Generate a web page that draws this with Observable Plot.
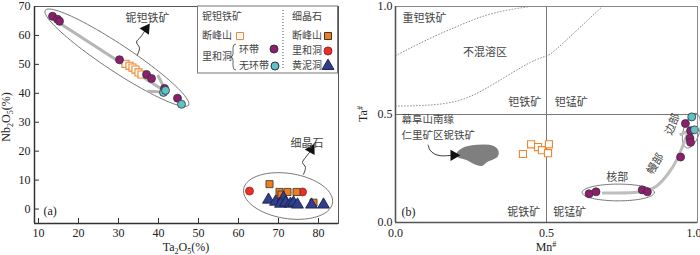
<!DOCTYPE html>
<html><head><meta charset="utf-8">
<script src="https://cdn.jsdelivr.net/npm/d3@7"></script>
<script src="https://cdn.jsdelivr.net/npm/@observablehq/plot@0.6"></script>
<style>
body{margin:0;background:#fff;}
#wrap{position:relative;width:700px;height:255px;overflow:hidden;background:#fff;}
#wrap > svg{position:absolute;top:0;}
</style></head><body><div id="wrap"></div>
<script>
// ---------- Panel (a): Ta2O5 (%) vs Nb2O5 (%) ----------
const aXTicks = [10, 20, 30, 40, 50, 60, 70, 80];
const aYTicks = [0, 10, 20, 30, 40, 50, 60, 70];
const aXDomain = [9, 85];
const aYDomain = [-5, 70];
// columbite-tantalite, Lihedong zoned
const aZonedTa = [13.5, 14.75, 15.25, 30.25, 37, 38.25, 41.5, 44.75];
const aZonedNb = [66.6, 65.6, 64.9, 51.6, 46.5, 45.1, 41.7, 38.3];
// columbite-tantalite, Lihedong unzoned
const aUnzonedTa = [41.25, 41.75, 45.75];
const aUnzonedNb = [40.3, 41.0, 36.2];
// columbite-tantalite, Duanfengshan
const aColDfsTa = [31.75, 32.75, 33.5, 34.25, 35, 35.75];
const aColDfsNb = [50.2, 49.5, 48.9, 48.2, 47.2, 46.5];
// microlite, Duanfengshan
const aMicDfsTa = [67.75, 70.25, 70.75, 72.25, 74.5, 78.75];
const aMicDfsNb = [8.6, 5.9, 5.0, 5.9, 5.9, 2.2];
// microlite, Lihedong
const aMicLhdTa = [62.75, 76, 70.5];
const aMicLhdNb = [6.2, 5.9, 3.2];
// microlite, Huangnidong
const aMicHndTa = [67.5, 69.25, 71.25, 70.5, 71.75, 73, 73.75, 74.75, 78.25, 81.25];
const aMicHndNb = [3.2, 2.5, 3.9, 1.8, 2.2, 1.8, 2.2, 1.5, 1.5, 1.5];

// ---------- Panel (b): Mn# vs Ta# ----------
const bTicks = [0, 0.5, 1];
const bColDfsMn = [0.422, 0.449, 0.472, 0.485, 0.508, 0.505];
const bColDfsTa = [0.317, 0.362, 0.349, 0.335, 0.362, 0.321];
const bZonedMn = [0.641, 0.664, 0.817, 0.834, 0.944, 0.975, 0.977, 0.960, 0.977];
const bZonedTa = [0.133, 0.142, 0.151, 0.142, 0.303, 0.390, 0.371, 0.458, 0.425];
const bUnzonedMn = [0.981, 0.990];
const bUnzonedTa = [0.489, 0.429];
// miscibility-gap boundaries (dotted)
const bUpperMn = [0, 0.103, 0.213, 0.322, 0.445];
const bUpperTa = [0.772, 0.845, 0.913, 0.968, 1.0];
const bLowerMn = [0, 0.103, 0.213, 0.322, 0.445, 0.502, 0.555, 0.685];
const bLowerTa = [0.539, 0.543, 0.566, 0.639, 0.740, 0.772, 0.831, 1.0];
// Renli columbite field (outline)
const bFieldMn = [0.203, 0.223, 0.269, 0.322, 0.339, 0.336, 0.302, 0.286, 0.269, 0.236, 0.206];
const bFieldTa = [0.315, 0.342, 0.356, 0.352, 0.329, 0.306, 0.283, 0.265, 0.269, 0.292, 0.306];
// evolution trend core -> mantle -> rim
const bTrendMn = [0.688, 0.811, 0.860, 0.904, 0.934, 0.953, 0.967];
const bTrendTa = [0.137, 0.142, 0.164, 0.228, 0.297, 0.361, 0.411];

const pts = (xs, ys) => xs.map((x, i) => ({x, y: ys[i]}));
function ellipse(c, a, b, n = 96) {
  return d3.range(n + 1).map(i => {
    const t = 2 * Math.PI * i / n;
    return {x: c[0] + a[0] * Math.cos(t) + b[0] * Math.sin(t),
            y: c[1] + a[1] * Math.cos(t) + b[1] * Math.sin(t)};
  });
}
const CJK = "'Noto Sans CJK SC', 'Noto Sans', sans-serif";
const SERIF = "'Liberation Serif', 'DejaVu Serif', serif";
const PURPLE = "#8e1c6f", CYAN = "#5ec3c8", ORANGE = "#f0862e", ORANGEF = "#f07d1c", RED = "#e8302a", BLUE = "#2f3f8e";
const cjkText = {x: "x", y: "y", text: "t", fontFamily: CJK, fontSize: 11, fill: "#444"};

// ---------- Plot (a) ----------
const plotA = Plot.plot({
  width: 345, height: 255,
  marginLeft: 34, marginRight: 7, marginTop: 6, marginBottom: 32,
  x: {domain: aXDomain}, y: {domain: aYDomain},
  style: {fontFamily: SERIF, fontSize: "12px", color: "#222", background: "transparent", overflow: "visible"},
  marks: [
    Plot.line(ellipse([29.6, 52.3], [17.9, -16.4], [-1.88, -3.82]), {x: "x", y: "y", stroke: "#777", strokeWidth: 1}),
    Plot.line(ellipse([72.4, 4.5], [11.1, -2.4], [-0.9, -7.7]), {x: "x", y: "y", stroke: "#777", strokeWidth: 1}),
    Plot.arrow([{x1: 15, y1: 64.5, x2: 42, y2: 40.4}], {x1: "x1", y1: "y1", x2: "x2", y2: "y2", stroke: "#b5b5b5", strokeWidth: 3, headLength: 9}),
    // pointer arrows
    Plot.line(pts([34.75, 35.25, 34.5, 35.5, 36.5], [53.3, 55.7, 57.7, 59.4, 61.4]), {x: "x", y: "y", curve: "catmull-rom", stroke: "#222", strokeWidth: 0.9}),
    Plot.line(pts([76.25, 76.75, 76, 76.75, 77.8], [12.0, 14.4, 16.1, 17.8, 19.6]), {x: "x", y: "y", curve: "catmull-rom", stroke: "#222", strokeWidth: 0.9}),
    Plot.dot([{x: 36.9, y: 62.3, r: 35}, {x: 78.2, y: 20.6, r: 30}], {x: "x", y: "y", rotate: "r", symbol: "triangle", r: 4.2, fill: "#111"}),
    // data
    Plot.dot(pts(aColDfsTa, aColDfsNb), {x: "x", y: "y", symbol: "square", r: 4, fill: "white", stroke: ORANGE, strokeWidth: 1.1}),
    Plot.dot(pts(aZonedTa, aZonedNb), {x: "x", y: "y", r: 4, fill: PURPLE, stroke: "#333", strokeWidth: 0.8}),
    Plot.dot(pts(aUnzonedTa, aUnzonedNb), {x: "x", y: "y", r: 4, fill: CYAN, stroke: "#333", strokeWidth: 0.8}),
    Plot.dot(pts(aMicLhdTa, aMicLhdNb), {x: "x", y: "y", r: 4, fill: RED, stroke: "#a02020", strokeWidth: 0.8}),
    Plot.dot(pts(aMicDfsTa, aMicDfsNb), {x: "x", y: "y", symbol: "square", r: 4, fill: ORANGEF, stroke: "#333", strokeWidth: 0.8}),
    Plot.dot(pts(aMicHndTa, aMicHndNb), {x: "x", y: "y", symbol: "triangle", r: 4.4, fill: BLUE, stroke: "#1a1a40", strokeWidth: 0.8}),
    // annotations
    Plot.text([{x: 31.75, y: 65.9, t: "铌钽铁矿"}, {x: 73, y: 22.6, t: "细晶石"}], {...cjkText, textAnchor: "start"}),
    Plot.text([{x: 11.25, y: -0.9, t: "(a)"}], {x: "x", y: "y", text: "t", textAnchor: "start", fontFamily: SERIF, fontSize: 12, fill: "#222"}),
    // axes
    Plot.axisX({ticks: aXTicks, tickSize: 0, tickPadding: 5, label: null, fontSize: 12}),
    Plot.axisY({ticks: aYTicks, tickSize: 0, tickPadding: 4, label: null, fontSize: 12}),
    Plot.ruleX(aXTicks, {x: d => d, y1: aYDomain[0], y2: aYDomain[0], insetTop: -5, stroke: "#333"}),
    Plot.ruleY(aYTicks, {y: d => d, x1: aXDomain[0], x2: aXDomain[0], insetRight: -5, stroke: "#333"}),
    Plot.frame({stroke: "#555"}),
    Plot.ruleX([aXDomain[0]], {stroke: "#333", strokeWidth: 1.5}),
    Plot.ruleY([aYDomain[0]], {stroke: "#333", strokeWidth: 1.5})
  ]
});

// ---------- Plot (b) ----------
const plotB = Plot.plot({
  width: 355, height: 255,
  marginLeft: 50, marginRight: 3, marginTop: 6, marginBottom: 33,
  x: {domain: [0, 1]}, y: {domain: [0, 1]},
  style: {fontFamily: SERIF, fontSize: "12px", color: "#222", background: "transparent", overflow: "visible"},
  marks: [
    Plot.line(pts(bUpperMn, bUpperTa), {x: "x", y: "y", curve: "natural", stroke: "#8a8a8a", strokeWidth: 1, strokeDasharray: "0.8,2.2"}),
    Plot.line(pts(bLowerMn, bLowerTa), {x: "x", y: "y", curve: "natural", stroke: "#8a8a8a", strokeWidth: 1, strokeDasharray: "0.8,2.2"}),
    Plot.ruleX([0.5], {stroke: "#777", strokeWidth: 1}),
    Plot.ruleY([0.5], {stroke: "#777", strokeWidth: 1}),
    Plot.line(pts(bFieldMn, bFieldTa), {x: "x", y: "y", curve: "catmull-rom-closed", fill: "#7f7f7f", stroke: "#7f7f7f"}),
    Plot.line(pts([0.108, 0.114, 0.128, 0.150, 0.185], [0.358, 0.336, 0.318, 0.309, 0.311]), {x: "x", y: "y", curve: "catmull-rom", stroke: "#222", strokeWidth: 0.9}),
    Plot.dot([{x: 0.193, y: 0.311, r: 90}], {x: "x", y: "y", rotate: "r", symbol: "triangle", r: 4.2, fill: "#111"}),
    Plot.line(ellipse([0.7375, 0.139], [0.1196, 0], [0, 0.0388]), {x: "x", y: "y", stroke: "#777", strokeWidth: 1}),
    Plot.line(ellipse([0.980, 0.425], [0.015, 0.0795], [0.0259, -0.009]), {x: "x", y: "y", stroke: "#777", strokeWidth: 1}),
    Plot.line(pts(bTrendMn, bTrendTa), {x: "x", y: "y", curve: "catmull-rom", stroke: "#bdbdbd", strokeWidth: 3, markerEnd: "arrow"}),
    Plot.dot(pts(bColDfsMn, bColDfsTa), {x: "x", y: "y", symbol: "square", r: 4, fill: "white", stroke: ORANGE, strokeWidth: 1.1}),
    Plot.dot(pts(bZonedMn, bZonedTa), {x: "x", y: "y", r: 4, fill: PURPLE, stroke: "#333", strokeWidth: 0.8}),
    Plot.dot(pts(bUnzonedMn, bUnzonedTa), {x: "x", y: "y", r: 4, fill: CYAN, stroke: "#333", strokeWidth: 0.8}),
    // texts
    Plot.text([
      {x: 0.023, y: 0.945, t: "重钽铁矿"},
      {x: 0.527, y: 0.555, t: "钽锰矿"},
      {x: 0.522, y: 0.046, t: "铌锰矿"}
    ], {...cjkText, textAnchor: "start"}),
    Plot.text([
      {x: 0.020, y: 0.476, t: "幕阜山南缘"},
      {x: 0.020, y: 0.403, t: "仁里矿区铌铁矿"}
    ], {...cjkText, fontSize: 10.5, textAnchor: "start"}),
    Plot.text([
      {x: 0.483, y: 0.555, t: "钽铁矿"},
      {x: 0.479, y: 0.046, t: "铌铁矿"}
    ], {...cjkText, textAnchor: "end"}),
    Plot.text([
      {x: 0.296, y: 0.785, t: "不混溶区"},
      {x: 0.734, y: 0.208, t: "核部"}
    ], {...cjkText, textAnchor: "middle"}),
    Plot.text([{x: 0.860, y: 0.272, t: "幔部", r: -58}, {x: 0.917, y: 0.455, t: "边部", r: -68}],
      {...cjkText, rotate: "r"}),
    Plot.text([{x: 0.02, y: 0.046, t: "(b)"}], {x: "x", y: "y", text: "t", textAnchor: "start", fontFamily: SERIF, fontSize: 12, fill: "#222"}),
    // axes
    Plot.axisX({ticks: [0, 0.5], tickSize: 0, tickPadding: 6, tickFormat: d3.format(".1f"), label: null, fontSize: 12}),
    Plot.axisX({ticks: [1], tickSize: 0, tickPadding: 6, tickFormat: d3.format(".1f"), label: null, fontSize: 12, textAnchor: "end", dx: 4}),
    Plot.axisY({ticks: bTicks, tickSize: 0, tickPadding: 3, tickFormat: d3.format(".1f"), label: null, fontSize: 12}),
    Plot.frame({stroke: "#888"}),
    Plot.ruleX([0], {stroke: "#555", strokeWidth: 1.6}),
    Plot.ruleY([0], {stroke: "#555", strokeWidth: 1.6})
  ]
});

const wrap = document.getElementById("wrap");
plotA.style.left = "0px";
plotB.style.left = "345px";
wrap.appendChild(plotA);
wrap.appendChild(plotB);

// ---------- axis titles with sub/superscripts ----------
function richLabel(svg, x, y, rot, parts) {
  const t = d3.select(svg).append("text")
    .attr("transform", `translate(${x},${y}) rotate(${rot})`)
    .attr("text-anchor", "middle")
    .attr("font-family", SERIF).attr("font-size", 12).attr("fill", "#222");
  let shift = 0;
  parts.forEach(([s, kind]) => {
    const ts = t.append("tspan").text(s);
    const want = kind === "sub" ? 3 : kind === "sup" ? -4 : 0;
    if (want !== shift) ts.attr("dy", want - shift);
    if (kind) ts.attr("font-size", 8);
    shift = want;
  });
}
richLabel(plotA, 10, 117, -90, [["Nb"], ["2", "sub"], ["O"], ["5", "sub"], ["(%)"]]);
richLabel(plotA, 186, 251, 0, [["Ta"], ["2", "sub"], ["O"], ["5", "sub"], ["(%)"]]);
richLabel(plotB, 22, 114, -90, [["Ta"], ["#", "sup"]]);
richLabel(plotB, 201, 251, 0, [["Mn"], ["#", "sup"]]);

// ---------- legend of panel (a) ----------
const leg = d3.select(wrap).append("svg")
  .attr("width", 142).attr("height", 72)
  .style("left", "197px").style("top", "5px");
leg.append("rect").attr("x", 0.5).attr("y", 1).attr("width", 140).attr("height", 67)
  .attr("fill", "white").attr("stroke", "#777");
leg.append("line").attr("x1", 86).attr("x2", 86).attr("y1", 5).attr("y2", 65)
  .attr("stroke", "#555").attr("stroke-dasharray", "1,2");
const legTexts = [
  [5, 12, "铌钽铁矿"], [5, 31, "断峰山"], [5, 52, "里和洞"], [42, 45, "环带"], [42, 61, "无环带"],
  [95, 12, "细晶石"], [95, 31, "断峰山"], [95, 46, "里和洞"], [95, 61, "黄泥洞"]
];
leg.selectAll("text.l").data(legTexts).join("text")
  .attr("x", d => d[0]).attr("y", d => d[1]).attr("dominant-baseline", "middle")
  .attr("font-family", CJK).attr("font-size", 10).attr("fill", "#444").text(d => d[2]);
leg.append("path").attr("d", "M39,39 q-3,0 -3,4 v6 q0,3 -3,3 q3,0 3,3 v6 q0,4 3,4")
  .attr("fill", "none").attr("stroke", "#444").attr("stroke-width", 0.8);
const sym = (type, size) => d3.symbol(type, size)();
const legSyms = [
  [43, 31, d3.symbolSquare, 50, "white", ORANGE],
  [77, 44, d3.symbolCircle, 50, PURPLE, "#333"],
  [78, 61, d3.symbolCircle, 50, CYAN, "#333"],
  [131, 31, d3.symbolSquare, 50, ORANGEF, "#333"],
  [131, 46, d3.symbolCircle, 50, RED, "#a02020"],
  [131, 61, d3.symbolTriangle, 60, BLUE, "#1a1a40"]
];
leg.selectAll("path.s").data(legSyms).join("path")
  .attr("transform", d => `translate(${d[0]},${d[1]})`)
  .attr("d", d => sym(d[2], d[3])).attr("fill", d => d[4]).attr("stroke", d => d[5]).attr("stroke-width", 1);
</script></body></html>
